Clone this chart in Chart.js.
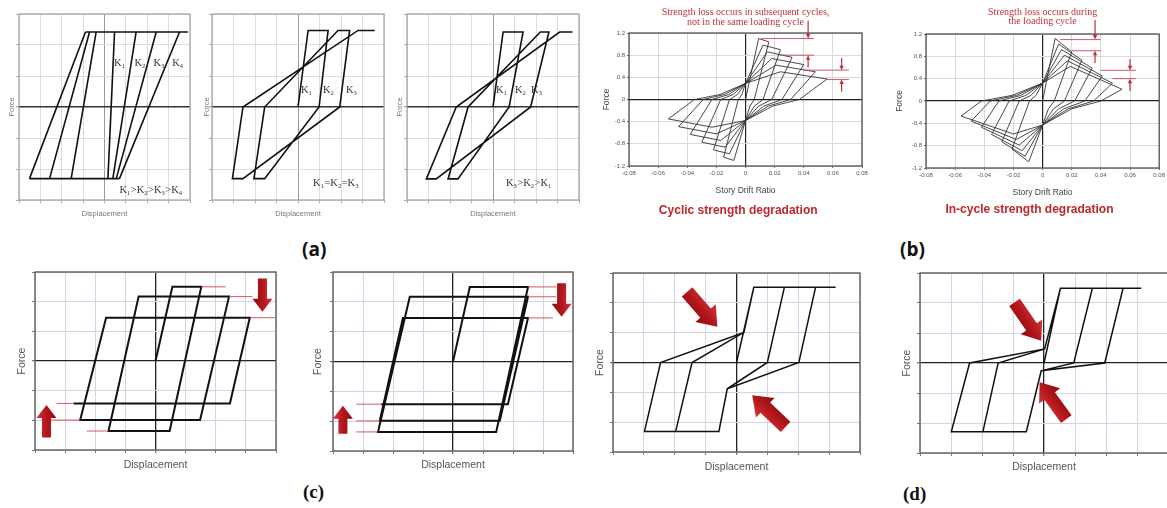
<!DOCTYPE html>
<html><head><meta charset="utf-8">
<script src="https://cdn.jsdelivr.net/npm/chart.js@4.4.1/dist/chart.umd.min.js"></script>
<style>
html,body{margin:0;padding:0;background:#fff;width:1167px;height:508px;overflow:hidden;position:relative;}
.pl{position:absolute;font-weight:bold;font-size:19px;line-height:20px;color:#111;white-space:nowrap;}
.ps{font-family:"Open Sans",sans-serif;}
.pr{font-family:"Liberation Serif",serif;}
</style></head><body>
<div class="pl ps" style="left:302px;top:239px;">(a)</div>
<div class="pl ps" style="left:900px;top:239px;">(b)</div>
<div class="pl pr" style="left:303px;top:482px;">(c)</div>
<div class="pl pr" style="left:903px;top:484px;">(d)</div>
<script>
// ---------- tick values ----------
const A_XTICKS = [-4,-3,-2,-1,0,1,2,3,4];
const A_YTICKS = [-3,-2,-1,0,1,2,3];
const B_XTICKS = [-0.08,-0.06,-0.04,-0.02,0,0.02,0.04,0.06,0.08];
const B_XLABELS = ['-0.08','-0.06','-0.04','-0.02','0','0.02','0.04','0.06','0.08'];
const B_YTICKS = [-1.2,-0.8,-0.4,0,0.4,0.8,1.2];
const B_YLABELS = ['-1.2','-0.8','-0.4','0','0.4','0.8','1.2'];

// ---------- (a) stiffness degradation panels (null = pen up) ----------
const a1X = [-0.89,3.9,null,-3.51,0.70,null,-3.51,-0.89,null,-2.57,-0.70,null,-1.56,-0.39,null,0.16,0.47,null,0.39,1.48,null,0.55,2.42,null,0.70,3.51];
const a1Y = [2.42,2.42,null,-2.31,-2.31,null,-2.31,2.42,null,-2.31,2.42,null,-2.31,2.42,null,-2.31,2.42,null,-2.31,2.42,null,-2.31,2.42,null,-2.31,2.42];
const a2X = [0,0.47,1.40,0.98,-1.55,-2.05,-1.55,1.86,2.40,1.94,-2.56,-3.05,-2.56,2.79,3.57];
const a2Y = [0,2.47,2.47,0,-2.31,-2.31,0,2.47,2.47,0,-2.31,-2.31,0,2.47,2.47];
const a3X = [0,0.47,1.40,0.75,-1.63,-2.09,-1.16,2.20,2.60,1.75,-2.64,-3.10,-1.71,3.10,3.70];
const a3Y = [0,2.42,2.42,0,-2.32,-2.32,0,2.42,2.42,0,-2.32,-2.32,0,2.42,2.42];

// ---------- (b) story drift hysteresis ----------
const b1X = [0,
 0.009,0.016,0.006,0.003,0,-0.008,-0.015,-0.005,-0.0025,0,
 0.012,0.024,0.012,0.006,0,-0.011,-0.022,-0.011,-0.0055,0,
 0.015,0.032,0.018,0.009,0,-0.014,-0.030,-0.017,-0.0085,0,
 0.018,0.040,0.025,0.0125,0,-0.017,-0.038,-0.023,-0.0115,0,
 0.021,0.048,0.031,0.0155,0,-0.020,-0.046,-0.029,-0.0145,0,
 0.024,0.056,0.037,0.0185,0,-0.023,-0.053,-0.035,-0.0175,0];
const b1Y = [0,
 1.10,1.04,0,-0.12,-0.38,-1.10,-1.04,0,0.09,0.29,
 0.98,0.90,0,-0.12,-0.38,-0.98,-0.91,0,0.09,0.29,
 0.86,0.76,0,-0.12,-0.38,-0.86,-0.77,0,0.09,0.29,
 0.74,0.63,0,-0.12,-0.38,-0.74,-0.63,0,0.09,0.29,
 0.62,0.50,0,-0.12,-0.38,-0.62,-0.49,0,0.09,0.29,
 0.50,0.37,0,-0.12,-0.38,-0.50,-0.35,0,0.09,0.29];
const b2X = [0,
 0.0086,0.020,0.008,0.004,0,-0.0095,-0.021,-0.009,-0.0045,0,
 0.011,0.027,0.015,0.0075,0,-0.012,-0.028,-0.016,-0.008,0,
 0.013,0.034,0.022,0.011,0,-0.014,-0.035,-0.023,-0.0115,0,
 0.015,0.041,0.029,0.0145,0,-0.016,-0.042,-0.030,-0.015,0,
 0.017,0.048,0.035,0.0175,0,-0.018,-0.049,-0.036,-0.018,0,
 0.019,0.0545,0.040,0.020,0,-0.020,-0.056,-0.042,-0.021,0];
const b2Y = [0,
 1.12,0.88,0,-0.14,-0.43,-1.09,-0.86,0,0.10,0.32,
 1.02,0.73,0,-0.14,-0.43,-0.99,-0.73,0,0.10,0.32,
 0.92,0.59,0,-0.14,-0.43,-0.89,-0.60,0,0.10,0.32,
 0.82,0.45,0,-0.14,-0.43,-0.79,-0.47,0,0.10,0.32,
 0.72,0.32,0,-0.14,-0.43,-0.69,-0.36,0,0.10,0.32,
 0.62,0.21,0,-0.14,-0.43,-0.59,-0.27,0,0.10,0.32];

// ---------- (c) strength degradation ----------
const c1X = [0,0.56,1.52,0.47,-1.56,-0.56,2.44,1.48,-2.50,-1.64,3.13,2.47,-2.72];
const c1Y = [0,2.50,2.50,-2.36,-2.36,2.17,2.17,-1.99,-1.99,1.46,1.46,-1.43,-1.43];
const c2X = [0,0.56,2.50,1.44,-2.50,-1.44,2.50,1.56,-2.44,-1.67,2.50,1.83,-2.39];
const c2Y = [0,2.50,2.50,-2.36,-2.36,2.17,2.17,-1.99,-1.99,1.46,1.46,-1.43,-1.43];

// ---------- (d) pinching ----------
const d1X = [0,0.56,1.55,1.00,-0.30,-0.57,-1.97,-1.44,0.24,0.56,2.56,2.02,-0.30,-0.57,-2.98,-2.46,0.24,0.56,3.21];
const d1Y = [0,2.52,2.52,0,-0.88,-2.31,-2.31,0,1.01,2.52,2.52,0,-0.88,-2.31,-2.31,0,1.01,2.52,2.52];
const d2X = [0,0.53,1.56,0.96,-0.09,-0.57,-1.97,-1.48,0.02,0.53,2.55,1.96,-0.09,-0.57,-2.99,-2.40,0.02,0.53,3.14];
const d2Y = [0,2.49,2.49,0,-0.26,-2.29,-2.29,0,0.47,2.49,2.49,0,-0.26,-2.29,-2.29,0,0.47,2.49,2.49];

// ---------- annotations (data units) ----------
const RED = '#c0303c';
const ANN = {
  a1:{labels:[{x:0.45,y:1.42,t:'K_1'},{x:1.40,y:1.42,t:'K_2'},{x:2.29,y:1.42,t:'K_3'},{x:3.17,y:1.42,t:'K_4'},{x:0.70,y:-2.68,t:'K_1>K_2>K_3>K_4'}]},
  a2:{labels:[{x:0.14,y:0.55,t:'K_1'},{x:1.16,y:0.55,t:'K_2'},{x:2.23,y:0.55,t:'K_3'},{x:0.70,y:-2.45,t:'K_1=K_2=K_3'}]},
  a3:{labels:[{x:0.14,y:0.55,t:'K_1'},{x:1.02,y:0.55,t:'K_2'},{x:1.77,y:0.55,t:'K_3'},{x:0.60,y:-2.45,t:'K_3>K_2>K_1'}]},
  b1:{
    texts:[{x:0,y:1.58,t:'Strength loss occurs in subsequent cycles,',size:10,font:'"Liberation Serif"',color:RED},
           {x:0,y:1.40,t:'not in the same loading cycle',size:10,font:'"Liberation Serif"',color:RED},
           {x:-0.005,y:-2.01,t:'Cyclic strength degradation',size:12,font:'"Liberation Sans"',bold:true,color:'#c0272d'}],
    guides:[{y:1.10,x1:0.011,x2:0.047},{y:0.80,x1:0.024,x2:0.047},{y:0.53,x1:0.040,x2:0.071},{y:0.36,x1:0.056,x2:0.071}],
    small:[{x:0.043,y1:1.42,y2:1.10},{x:0.043,y1:0.58,y2:0.80},{x:0.066,y1:0.75,y2:0.53},{x:0.066,y1:0.14,y2:0.36}]
  },
  b2:{
    texts:[{x:0,y:1.59,t:'Strength loss occurs during',size:10,font:'"Liberation Serif"',color:RED},
           {x:0,y:1.42,t:'the loading cycle',size:10,font:'"Liberation Serif"',color:RED},
           {x:-0.009,y:-1.95,t:'In-cycle strength degradation',size:12,font:'"Liberation Sans"',bold:true,color:'#c0272d'}],
    guides:[{y:1.10,x1:0.012,x2:0.040},{y:0.90,x1:0.020,x2:0.040},{y:0.55,x1:0.040,x2:0.064},{y:0.40,x1:0.048,x2:0.064}],
    small:[{x:0.036,y1:1.45,y2:1.10},{x:0.036,y1:0.68,y2:0.90},{x:0.060,y1:0.75,y2:0.55},{x:0.060,y1:0.18,y2:0.40}]
  },
  c1:{guides:[{y:2.50,x1:1.52,x2:2.33},{y:2.17,x1:2.44,x2:3.22},{y:1.46,x1:3.13,x2:3.98},{y:-1.43,x1:-3.28,x2:-2.72},{y:-1.99,x1:-3.50,x2:-2.50},{y:-2.36,x1:-2.28,x2:-1.56}],
      arrows:[{x1:3.55,y1:2.78,x2:3.55,y2:1.66,s:9,h:20,l:13},{x1:-3.62,y1:-2.58,x2:-3.62,y2:-1.48,s:9,h:20,l:13}]},
  c2:{guides:[{y:2.50,x1:2.50,x2:3.44},{y:2.17,x1:2.50,x2:3.44},{y:1.46,x1:2.50,x2:3.33},{y:-1.43,x1:-3.22,x2:-2.39},{y:-1.99,x1:-3.22,x2:-2.44},{y:-2.36,x1:-3.22,x2:-2.50}],
      arrows:[{x1:3.62,y1:2.62,x2:3.62,y2:1.50,s:9,h:20,l:13},{x1:-3.67,y1:-2.42,x2:-3.67,y2:-1.48,s:9,h:20,l:13}]},
  d1:{arrows:[{x1:-1.60,y1:2.37,x2:-0.62,y2:1.20,s:14,h:27,l:18},{x1:1.59,y1:-2.16,x2:0.51,y2:-1.10,s:14,h:27,l:18}]},
  d2:{arrows:[{x1:-0.95,y1:2.02,x2:-0.09,y2:0.74,s:13,h:26,l:17},{x1:0.72,y1:-1.87,x2:-0.14,y2:-0.64,s:13,h:26,l:17}]}
};

const STYLES = {
  a:{line:'#111',lw:1.6,grid:'#dcdce6',zeroV:'#9a9a9a',zeroVW:1,zeroH:'#333',zeroHW:1.4,frame:'#a0a0a0',frameW:1.2,titleSize:7.5,titleColor:'#777',tickLen:3,tickColor:'#aaa',tickSize:6,tickFont:'#555'},
  b:{line:'#333',lw:0.9,grid:'#d8d8e2',zeroV:'#222',zeroVW:1.2,zeroH:'#222',zeroHW:1.2,frame:'#444',frameW:1.2,titleSize:8.5,titleColor:'#444',tickLen:2,tickColor:'#666',tickSize:6,tickFont:'#555'},
  c:{line:'#111',lw:2,grid:'#d4d4e6',zeroV:'#222',zeroVW:1.3,zeroH:'#222',zeroHW:1.3,frame:'#666',frameW:1.5,titleSize:10.5,titleColor:'#555',tickLen:3,tickColor:'#777',tickSize:6,tickFont:'#555'},
  d:{line:'#111',lw:1.5,grid:'#d4d4e6',zeroV:'#222',zeroVW:1.3,zeroH:'#222',zeroHW:1.3,frame:'#666',frameW:1.5,titleSize:10.5,titleColor:'#555',tickLen:3,tickColor:'#777',tickSize:6,tickFont:'#555'}
};

const PANELS = [
  {id:'a1',st:'a',rect:[19,14,190,200],padL:12,padB:18,padT:3,padR:3,xr:[-4,4],yr:[-3,3],xt:A_XTICKS,yt:A_YTICKS,xs:a1X,ys:a1Y,xT:'Displacement',yT:'Force'},
  {id:'a2',st:'a',rect:[212,14,384,200],padL:10,padB:18,padT:3,padR:3,xr:[-4,4],yr:[-3,3],xt:A_XTICKS,yt:A_YTICKS,xs:a2X,ys:a2Y,xT:'Displacement',yT:'Force'},
  {id:'a3',st:'a',rect:[407,14,579,200],padL:12,padB:18,padT:3,padR:3,xr:[-4,4],yr:[-3,3],xt:A_XTICKS,yt:A_YTICKS,xs:a3X,ys:a3Y,xT:'Displacement',yT:'Force'},
  {id:'b1',st:'b',rect:[629,33,862,166],padL:27,padB:30,padT:33,padR:10,extraB:26,xr:[-0.08,0.08],yr:[-1.2,1.2],xt:B_XTICKS,yt:B_YTICKS,xl:B_XLABELS,yl:B_YLABELS,xs:b1X,ys:b1Y,xT:'Story Drift Ratio',yT:'Force'},
  {id:'b2',st:'b',rect:[926,34,1161,168],padL:31,padB:30,padT:34,padR:6,extraB:24,xr:[-0.08,0.08],yr:[-1.2,1.2],xt:B_XTICKS,yt:B_YTICKS,xl:B_XLABELS,yl:B_YLABELS,xs:b2X,ys:b2Y,xT:'Story Drift Ratio',yT:'Force'},
  {id:'c1',st:'c',rect:[35,272,276,450],padL:19,padB:21,padT:4,padR:4,xr:[-4,4],yr:[-3,3],xt:A_XTICKS,yt:A_YTICKS,xs:c1X,ys:c1Y,xT:'Displacement',yT:'Force'},
  {id:'c2',st:'c',rect:[333,272,573,451],padL:21,padB:20,padT:4,padR:4,xr:[-4,4],yr:[-3,3],xt:A_XTICKS,yt:A_YTICKS,xs:c2X,ys:c2Y,xT:'Displacement',yT:'Force'},
  {id:'d1',st:'d',rect:[613,273,860,452],padL:19,padB:21,padT:4,padR:4,xr:[-4,4],yr:[-3,3],xt:A_XTICKS,yt:A_YTICKS,xs:d1X,ys:d1Y,xT:'Displacement',yT:'Force'},
  {id:'d2',st:'d',rect:[920,273,1168,453],padL:19,padB:20,padT:4,padR:1,xr:[-4,4],yr:[-3,3],xt:A_XTICKS,yt:A_YTICKS,xs:d2X,ys:d2Y,xT:'Displacement',yT:'Force'}
];

function drawSub(ctx, str, x, y, size, font, color){
  ctx.fillStyle = color; ctx.textBaseline = 'middle'; ctx.textAlign = 'left';
  let cx = x;
  for (let i = 0; i < str.length; i++){
    let ch = str[i], sub = false;
    if (ch === '_'){ sub = true; ch = str[++i]; }
    ctx.font = (sub ? size*0.62 : size) + 'px ' + font;
    ctx.fillText(ch, cx, sub ? y + size*0.28 : y);
    cx += ctx.measureText(ch).width + (sub ? 0.5 : 0);
  }
}
function blockArrow(ctx, x1, y1, x2, y2, s, h, l){
  const ang = Math.atan2(y2-y1, x2-x1), len = Math.hypot(x2-x1, y2-y1);
  ctx.save(); ctx.translate(x1, y1); ctx.rotate(ang);
  ctx.beginPath();
  ctx.moveTo(0,-s/2); ctx.lineTo(len-l,-s/2); ctx.lineTo(len-l,-h/2); ctx.lineTo(len,0);
  ctx.lineTo(len-l,h/2); ctx.lineTo(len-l,s/2); ctx.lineTo(0,s/2); ctx.closePath();
  const g = ctx.createLinearGradient(0,-h/2,0,h/2);
  g.addColorStop(0,'#d2353a'); g.addColorStop(0.5,'#b3161b'); g.addColorStop(1,'#8a0f12');
  ctx.fillStyle = g; ctx.fill();
  ctx.restore();
}
function smallArrow(ctx, x, y1, y2, color){
  ctx.save(); ctx.strokeStyle = color; ctx.fillStyle = color; ctx.lineWidth = 1.2;
  const dir = y2 > y1 ? 1 : -1;
  ctx.beginPath(); ctx.moveTo(x, y1); ctx.lineTo(x, y2 - dir*3); ctx.stroke();
  ctx.beginPath(); ctx.moveTo(x-2.2, y2 - dir*4.5); ctx.lineTo(x+2.2, y2 - dir*4.5); ctx.lineTo(x, y2); ctx.closePath(); ctx.fill();
  ctx.restore();
}

const annotPlugin = {
  id:'annotPlugin',
  beforeDatasetsDraw(chart){
    const p = chart.$panel, st = STYLES[p.st], a = chart.chartArea, ctx = chart.ctx;
    ctx.save(); ctx.strokeStyle = st.frame; ctx.lineWidth = st.frameW;
    ctx.strokeRect(a.left, a.top, a.right-a.left, a.bottom-a.top); ctx.restore();
  },
  afterDraw(chart){
    const p = chart.$panel, an = ANN[p.id]; if (!an) return;
    const ctx = chart.ctx, xs = chart.scales.x, ys = chart.scales.y;
    const X = v => xs.getPixelForValue(v), Y = v => ys.getPixelForValue(v);
    ctx.save();
    (an.guides||[]).forEach(g => {
      ctx.strokeStyle = p.st === 'b' ? '#c84a55' : '#d24848'; ctx.lineWidth = 0.9;
      ctx.beginPath(); ctx.moveTo(X(g.x1), Y(g.y)); ctx.lineTo(X(g.x2), Y(g.y)); ctx.stroke();
    });
    (an.small||[]).forEach(s => smallArrow(ctx, X(s.x), Y(s.y1), Y(s.y2), RED));
    (an.arrows||[]).forEach(r => blockArrow(ctx, X(r.x1), Y(r.y1), X(r.x2), Y(r.y2), r.s, r.h, r.l));
    (an.labels||[]).forEach(lb => drawSub(ctx, lb.t, X(lb.x), Y(lb.y), 10.5, '"Liberation Serif"', '#333'));
    (an.texts||[]).forEach(t => {
      ctx.font = (t.bold ? 'bold ' : '') + t.size + 'px ' + t.font;
      ctx.fillStyle = t.color; ctx.textAlign = 'center'; ctx.textBaseline = 'middle';
      ctx.fillText(t.t, X(t.x), Y(t.y));
    });
    ctx.restore();
  }
};

const FONT = '"Liberation Sans", Arial, sans-serif';
function isZero(c){ return c.tick && Math.abs(c.tick.value) < 1e-9; }

PANELS.forEach(p => {
  const st = STYLES[p.st];
  const [L,T,R,B] = p.rect;
  const extraB = p.extraB || 0;
  const w = (R-L) + p.padL + p.padR, h = (B-T) + p.padT + p.padB + extraB;
  const cv = document.createElement('canvas');
  cv.id = p.id; cv.width = w; cv.height = h;
  cv.style.cssText = 'position:absolute;left:'+(L-p.padL)+'px;top:'+(T-p.padT)+'px;width:'+w+'px;height:'+h+'px;';
  document.body.appendChild(cv);
  const data = p.xs.map((x,i) => ({x: x === null ? 0 : x, y: p.ys[i]}));
  new Chart(cv, {
    type:'scatter',
    data:{datasets:[{data, showLine:true, spanGaps:false, borderColor:st.line, borderWidth:st.lw, pointRadius:0, pointHoverRadius:0, fill:false, tension:0, borderJoinStyle:'miter'}]},
    options:{
      responsive:false, animation:false, devicePixelRatio:1, events:[],
      layout:{padding:{left:0, right:p.padR, top:p.padT, bottom:extraB}},
      plugins:{legend:{display:false}, tooltip:{enabled:false}},
      scales:{
        x:{type:'linear', min:p.xr[0], max:p.xr[1],
          afterBuildTicks:s => { s.ticks = p.xt.map(v => ({value:v})); },
          afterFit:s => { s.height = p.padB; },
          grid:{color:c => isZero(c) ? st.zeroV : st.grid, lineWidth:c => isZero(c) ? st.zeroVW : 1, drawTicks:true, tickLength:st.tickLen, tickColor:st.tickColor},
          border:{display:false},
          ticks:{display:!!p.xl, autoSkip:false, maxRotation:0, minRotation:0, padding:2, font:{size:st.tickSize, family:FONT}, color:st.tickFont, callback:(v,i) => p.xl ? p.xl[i] : ''},
          title:{display:true, text:p.xT, font:{size:st.titleSize, family:FONT}, color:st.titleColor, padding:0}
        },
        y:{type:'linear', min:p.yr[0], max:p.yr[1],
          afterBuildTicks:s => { s.ticks = p.yt.map(v => ({value:v})); },
          afterFit:s => { s.width = p.padL; },
          grid:{color:c => isZero(c) ? st.zeroH : st.grid, lineWidth:c => isZero(c) ? st.zeroHW : 1, drawTicks:true, tickLength:st.tickLen, tickColor:st.tickColor},
          border:{display:false},
          ticks:{display:!!p.yl, autoSkip:false, padding:2, font:{size:st.tickSize, family:FONT}, color:st.tickFont, callback:(v,i) => p.yl ? p.yl[i] : ''},
          title:{display:true, text:p.yT, font:{size:st.titleSize, family:FONT}, color:st.titleColor, padding:0}
        }
      }
    },
    plugins:[{id:'bind', beforeInit(c){ c.$panel = p; }}, annotPlugin]
  });
});
</script>
</body></html>
